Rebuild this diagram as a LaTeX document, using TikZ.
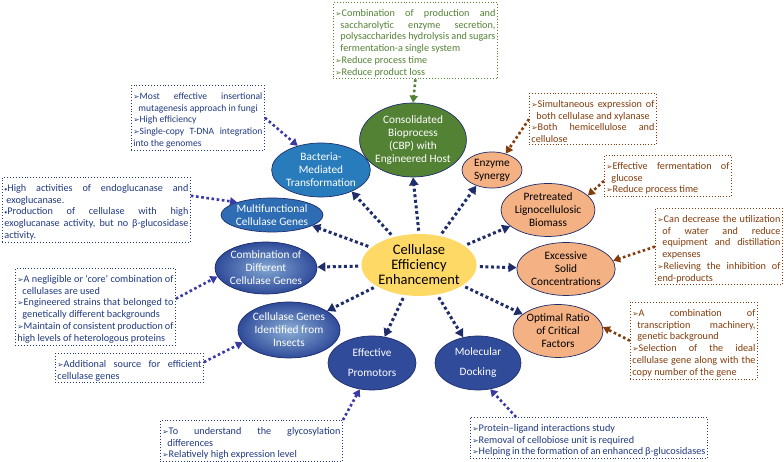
\documentclass[tikz,border=0pt]{standalone}
\usepackage{fontspec}
\setmainfont{Carlito}
\newfontfamily\symfont{DejaVu Sans}
\usetikzlibrary{shapes.geometric,arrows.meta}
\definecolor{navy}{HTML}{1F2D6B}
\definecolor{notenavy}{HTML}{203A80}
\definecolor{arrowblue}{HTML}{3A3AA6}
\definecolor{cbpgreen}{HTML}{548235}
\definecolor{rust}{HTML}{843C0C}
\definecolor{peach}{HTML}{F4B183}
\definecolor{hubyellow}{HTML}{FFD966}
\definecolor{midblue}{HTML}{2E6DB4}
\definecolor{deepblue}{HTML}{2F4B9A}
\newcommand{\notefont}{\fontsize{10.2}{11.8}\selectfont\hyphenpenalty=10000\tolerance=9999\emergencystretch=6pt}
\newcommand{\bitem}{\par\noindent\hangindent=5pt\hangafter=1{\symfont\fontsize{7.5}{7.5}\selectfont ➢}}
\newcommand{\dotitem}{\par\noindent\hangindent=2pt\hangafter=1{\fontsize{6}{6}\selectfont\textbullet}}
\tikzset{
  bubble/.style={ellipse, draw=navy, line width=0.7pt, inner sep=0pt, align=center,
    font=\fontsize{11.3}{13}\selectfont},
  bluebubble/.style={bubble, fill=midblue, text=white},
  peachbubble/.style={bubble, fill=peach, text=black},
  note/.style={draw, dotted, line width=0.9pt, anchor=north west, inner sep=2pt,
    align=justify, font=\notefont},
  link/.style={color=navy, line width=3pt, dash pattern=on 3pt off 2.6pt, shorten <=3pt,
    -{Triangle[length=8pt,width=9pt]}},
  notelink/.style={line width=2.6pt, dash pattern=on 2.6pt off 2.6pt,
    -{Triangle[length=7pt,width=8pt]}}
}
\begin{document}
\begin{tikzpicture}[x=1pt,y=1pt]
\useasboundingbox[fill=white] (0.000000,0.000000) rectangle (784.000000,462.000000);
% Drawing ellipses
% Centre: Cellulase Efficiency Enhancement
\node[bubble, draw=none, fill=hubyellow, minimum width=98pt, minimum height=62pt,
  font=\fontsize{14.5}{15}\selectfont] (hub) at (419.000000,197.000000)
  {Cellulase\\Efficiency\\Enhancement};
% Upper half
\node[bubble, fill=cbpgreen, text=white, minimum width=90pt, minimum height=74pt] (cbp)
  at (413.000000,322.000000) {Consolidated\\Bioprocess\\(CBP) with\\Engineered Host};
\node[peachbubble, minimum width=60pt, minimum height=36pt] (enz)
  at (492.000000,292.000000) {Enzyme\\Synergy};
\node[peachbubble, minimum width=92pt, minimum height=53pt] (pre)
  at (548.000000,252.000000) {Pretreated\\Lignocellulosic\\Biomass};
\node[peachbubble, minimum width=88pt, minimum height=53pt] (exc)
  at (566.000000,193.000000) {Excessive\\Solid\\Concentrations};
\node[peachbubble, minimum width=90pt, minimum height=53pt] (opt)
  at (558.000000,131.000000) {Optimal Ratio\\of Critical\\Factors};
% Lower half
\node[bluebubble, fill=deepblue, minimum width=86pt, minimum height=54pt] (dock)
  at (478.000000,99.000000) {Molecular\\[7pt]Docking};
\node[bluebubble, fill=deepblue, minimum width=88pt, minimum height=54pt] (promo)
  at (372.000000,99.000000) {Effective\\[7pt]Promotors};
\node[bluebubble, shade, inner color=midblue!55!white, outer color=deepblue,
  minimum width=102pt, minimum height=56pt] (insect)
  at (289.000000,132.000000) {Cellulase Genes\\Identified from\\Insects};
\node[bluebubble, shade, inner color=midblue!60!white, outer color=deepblue,
  minimum width=102pt, minimum height=52pt] (comb)
  at (266.000000,194.000000) {Combination of\\Different\\Cellulase Genes};
\node[bluebubble, minimum width=96pt, minimum height=34pt] (multi)
  at (272.000000,247.000000) {Multifunctional\\Cellulase Genes};
\node[bluebubble, fill=midblue!90!cyan, minimum width=91pt, minimum height=54pt] (bact)
  at (321.000000,292.000000) {Bacteria-\\Mediated\\Transformation};
% Done with ellipses; drawing notes
\node[note, draw=cbpgreen, text=cbpgreen, text width=160pt, minimum height=75pt] (cbpnote)
  at (333.000000,460.000000)
  {\bitem Combination of production and saccharolytic enzyme secretion, polysaccharides hydrolysis and sugars fermentation-a single system
   \bitem Reduce process time
   \bitem Reduce product loss};
\node[note, draw=notenavy, text=notenavy, text width=129pt, minimum height=62pt,
  font={\notefont\fontsize{9.6}{11.8}\selectfont}] (bactnote)
  at (131.000000,377.000000)
  {\bitem Most effective insertional\linebreak mutagenesis approach in fungi
   \bitem High efficiency
   \bitem Single-copy T-DNA integration into the genomes};
\node[note, draw=notenavy, text=notenavy, text width=184pt, minimum height=55pt] (multinote)
  at (2.000000,285.000000)
  {\dotitem High activities of endoglucanase and exoglucanase.
   \dotitem Production of cellulase with high exoglucanase activity, but no β-glucosidase activity.};
\node[note, draw=notenavy, text=notenavy, text width=156pt, minimum height=65pt] (combnote)
  at (15.000000,194.000000)
  {\bitem A negligible or ‘core’ combination of cellulases are used
   \bitem Engineered strains that belonged to genetically different backgrounds
   \bitem Maintain of consistent production of high levels of heterologous proteins};
\node[note, draw=notenavy, text=notenavy, text width=144pt, minimum height=26pt] (insectnote)
  at (55.000000,109.000000)
  {\bitem Additional source for efficient cellulase genes};
\node[note, draw=notenavy, text=notenavy, text width=178pt, minimum height=40pt] (promonote)
  at (160.000000,42.000000)
  {\bitem To understand the glycosylation differences
   \bitem Relatively high expression level};
\node[note, draw=notenavy, text=notenavy, text width=233pt, minimum height=40pt] (docknote)
  at (470.000000,45.000000)
  {\bitem Protein–ligand interactions study
   \bitem Removal of cellobiose unit is required
   \bitem Helping in the formation of an enhanced β-glucosidases};
\node[note, draw=rust, text=rust, text width=123pt, minimum height=73pt] (optnote)
  at (630.000000,160.000000)
  {\bitem A combination of\linebreak transcription machinery,\linebreak genetic background
   \bitem Selection of the ideal cellulase gene along with the copy number of the gene};
\node[note, draw=rust, text=rust, text width=123pt, minimum height=75pt] (excnote)
  at (655.000000,254.000000)
  {\bitem Can decrease the utilization of water and reduce equipment and distillation expenses
   \bitem Relieving the inhibition of end-products};
\node[note, draw=rust, text=rust, text width=123pt, minimum height=38pt] (prenote)
  at (604.000000,307.000000)
  {\bitem Effective fermentation of glucose
   \bitem Reduce process time};
\node[note, draw=rust, text=rust, text width=123pt, minimum height=50pt] (enznote)
  at (529.000000,369.000000)
  {\bitem Simultaneous expression of both cellulase and xylanase
   \bitem Both hemicellulose and cellulose};
% Done with notes; drawing links from the centre
\draw[link] (hub.north) -- (cbp.south);
\draw[link] (hub) -- (enz.225);
\draw[link] (hub) -- (pre);
\draw[link] (hub) -- (exc);
\draw[link] (hub) -- (opt);
\draw[link] (hub) -- (dock.120);
\draw[link] (hub) -- (promo);
\draw[link] (hub) -- (insect);
\draw[link] (hub) -- (comb);
\draw[link] (hub) -- (multi.-15);
\draw[link] (hub) -- (bact.-35);
% Links from the notes
\draw[notelink, color=cbpgreen] (cbpnote.south) -- (cbp.north);
\draw[notelink, color=arrowblue] (bactnote.east) -- (bact.134);
\draw[notelink, color=arrowblue] ([yshift=14pt]multinote.east) -- (multi.160);
\draw[notelink, color=arrowblue] ([yshift=8pt]combnote.east) -- (comb.190);
\draw[notelink, color=arrowblue] ([yshift=6pt]insectnote.east) -- (insect.195);
\draw[notelink, color=arrowblue] (promonote.north east) -- (promo.245);
\draw[notelink, color=arrowblue] ([xshift=46pt]docknote.north west) -- (dock.295);
\draw[notelink, color=rust] (optnote.west) -- (opt.5);
\draw[notelink, color=rust] (excnote.west) -- (exc.10);
\draw[notelink, color=rust] ([yshift=-5pt]prenote.west) -- (pre.20);
\draw[notelink, color=rust] (enznote.west) -- (enz.50);
% Done with links
\end{tikzpicture}
\end{document}
